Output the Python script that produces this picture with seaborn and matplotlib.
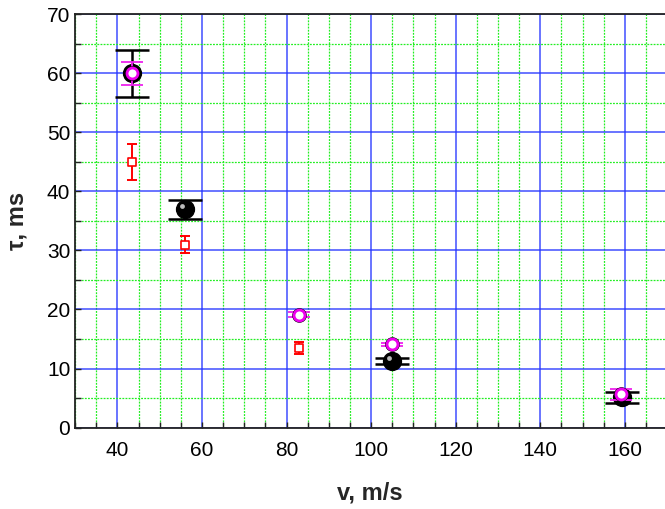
import matplotlib
matplotlib.use("Agg")
import matplotlib.pyplot as plt
import matplotlib.transforms as mtransforms
from matplotlib.ticker import MultipleLocator
import seaborn as sns
import pandas as pd

# black spheres
v_black = [43.5, 56.0, 105.0, 159.3]
tau_black = [60.0, 37.0, 11.2, 5.1]
err_black = [4.0, 1.6, 0.5, 1.0]

# magenta open circles
v_mag = [43.5, 83.0, 105.0, 159.0]
tau_mag = [60.0, 19.1, 14.1, 5.6]
err_mag = [1.9, 0.4, 0.3, 0.9]

# red open squares
v_red = [43.5, 56.0, 83.0]
tau_red = [45.0, 31.0, 13.5]
err_red = [3.0, 1.5, 1.0]

df_black = pd.DataFrame({"v": v_black, "tau": tau_black, "err": err_black})
df_mag = pd.DataFrame({"v": v_mag, "tau": tau_mag, "err": err_mag})
df_red = pd.DataFrame({"v": v_red, "tau": tau_red, "err": err_red})

sns.set_style("ticks")
plt.rcParams['font.family'] = ['Liberation Sans', 'DejaVu Sans']

fig = plt.figure(figsize=(6.65, 5.09), dpi=100)
ax = fig.add_axes([0.113, 0.16, 0.887, 0.812])

ax.set_xlim(30, 169.5)
ax.set_ylim(0, 70)
ax.xaxis.set_major_locator(MultipleLocator(20))
ax.xaxis.set_minor_locator(MultipleLocator(5))
ax.yaxis.set_major_locator(MultipleLocator(10))
ax.yaxis.set_minor_locator(MultipleLocator(5))

ax.grid(which="minor", color="#22ee22", linestyle=(0, (1.5, 1)), linewidth=0.9, zorder=0)
ax.grid(which="major", color="#2233ff", linestyle="-", linewidth=1.2, alpha=0.8, zorder=0)
ax.set_axisbelow(True)

ax.tick_params(which="both", direction="in", length=4, width=1, colors="#222222",
               labelcolor="black", labelsize=15, top=False, right=False)
ax.tick_params(axis="x", pad=10)
ax.spines["right"].set_visible(False)
for s in ["left", "bottom", "top"]:
    ax.spines[s].set_color("#222222")
    ax.spines[s].set_linewidth(1.3)

# error bars and markers
ax.errorbar(df_black["v"], df_black["tau"], yerr=df_black["err"], fmt="none",
            ecolor="black", elinewidth=1.8, capsize=12, capthick=1.8, zorder=3)
sns.scatterplot(data=df_black, x="v", y="tau", ax=ax, marker="o", s=165,
                color="black", edgecolor="black", zorder=4)
# highlight on the spheres
hl = mtransforms.offset_copy(ax.transData, fig=fig, x=-2.5, y=2.5, units="points")
ax.scatter(df_black["v"], df_black["tau"], s=12, color="#bbbbbb", transform=hl,
           zorder=5, linewidths=0)

ax.errorbar(df_mag["v"], df_mag["tau"], yerr=df_mag["err"], fmt="none",
            ecolor="#ee22ee", elinewidth=1.3, capsize=8, capthick=1.3, zorder=6)
sns.scatterplot(data=df_mag, x="v", y="tau", ax=ax, marker="o", s=110,
                color="black", edgecolor="black", linewidth=0, zorder=7)
sns.scatterplot(data=df_mag, x="v", y="tau", ax=ax, marker="o", s=62,
                color="white", edgecolor="#ee00ee", linewidth=2.0, zorder=8)

ax.errorbar(df_red["v"], df_red["tau"], yerr=df_red["err"], fmt="none",
            ecolor="red", elinewidth=1.4, capsize=3.5, capthick=1.4, zorder=6)
sns.scatterplot(data=df_red, x="v", y="tau", ax=ax, marker="s", s=30,
                color="white", edgecolor="red", linewidth=1.2, zorder=7)

ax.set_xlabel("v, m/s", fontsize=17, fontweight="bold", labelpad=15)
ax.set_ylabel("τ, ms", fontsize=17, fontweight="bold", labelpad=13)

fig.savefig("out.png", dpi=100)
